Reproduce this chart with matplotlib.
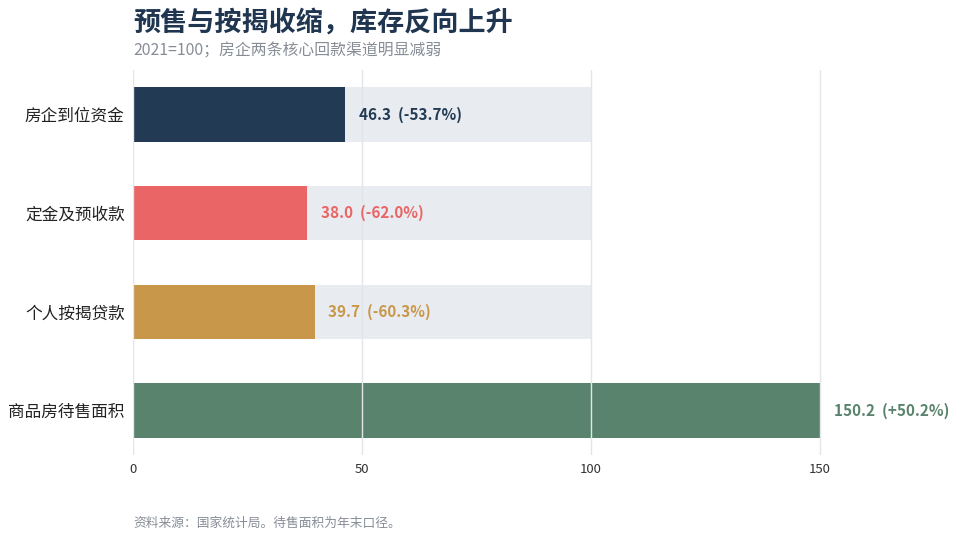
import matplotlib
matplotlib.use('Agg')
import matplotlib.pyplot as plt

plt.rcParams['font.family'] = ['Noto Sans CJK SC', 'DejaVu Sans']

# data
categories = ['房企到位资金', '定金及预收款', '个人按揭贷款', '商品房待售面积']
values = [46.3, 38.0, 39.7, 150.2]
changes = ['-53.7%', '-62.0%', '-60.3%', '+50.2%']
colors = ['#223a54', '#e96566', '#c9974a', '#5a836e']
baseline = 100
xticks = [0, 50, 100, 150]

fig = plt.figure(figsize=(9.6, 5.44), dpi=100)
ax = fig.add_axes([133/960, 1-455/544, (957-133)/960, (455-70)/544])

ypos = list(range(len(categories)))
bh = 0.55
# grey background to 2021 level for the shrinking series
for y, v in zip(ypos, values):
    if v < baseline:
        ax.barh(y, baseline, height=bh, color='#e8ebef', zorder=1)
ax.barh(ypos, values, height=bh, color=colors, zorder=2)

for x in xticks:
    ax.axvline(x, color='#e2e5ea', lw=1, zorder=3)

for y, v, c, col in zip(ypos, values, changes, colors):
    ax.text(v + 3, y, f'{v:.1f}  ({c})', va='center', ha='left',
            fontsize=11, fontweight='bold', color=col, zorder=4)

ax.set_xlim(0, 180)
ax.set_ylim(len(categories) - 0.55, -0.45)
ax.set_xticks(xticks)
ax.set_yticks(ypos)
ax.set_yticklabels(categories, fontsize=12, color='#222222')
ax.tick_params(axis='x', length=0, labelsize=9.5, colors='#333333', pad=6)
ax.tick_params(axis='y', length=0, pad=6)
for s in ax.spines.values():
    s.set_visible(False)

fig.text(133/960, 1-23/544, '预售与按揭收缩，库存反向上升', fontsize=19.5,
         fontweight='bold', color='#1f3550', va='center', ha='left')
fig.text(133/960, 1-51/544, '2021=100；房企两条核心回款渠道明显减弱', fontsize=11.4,
         color='#878d96', va='center', ha='left')
fig.text(133/960, 1-523/544, '资料来源：国家统计局。待售面积为年末口径。', fontsize=9.2,
         color='#878d96', va='center', ha='left')

fig.savefig('out.png', dpi=100)
